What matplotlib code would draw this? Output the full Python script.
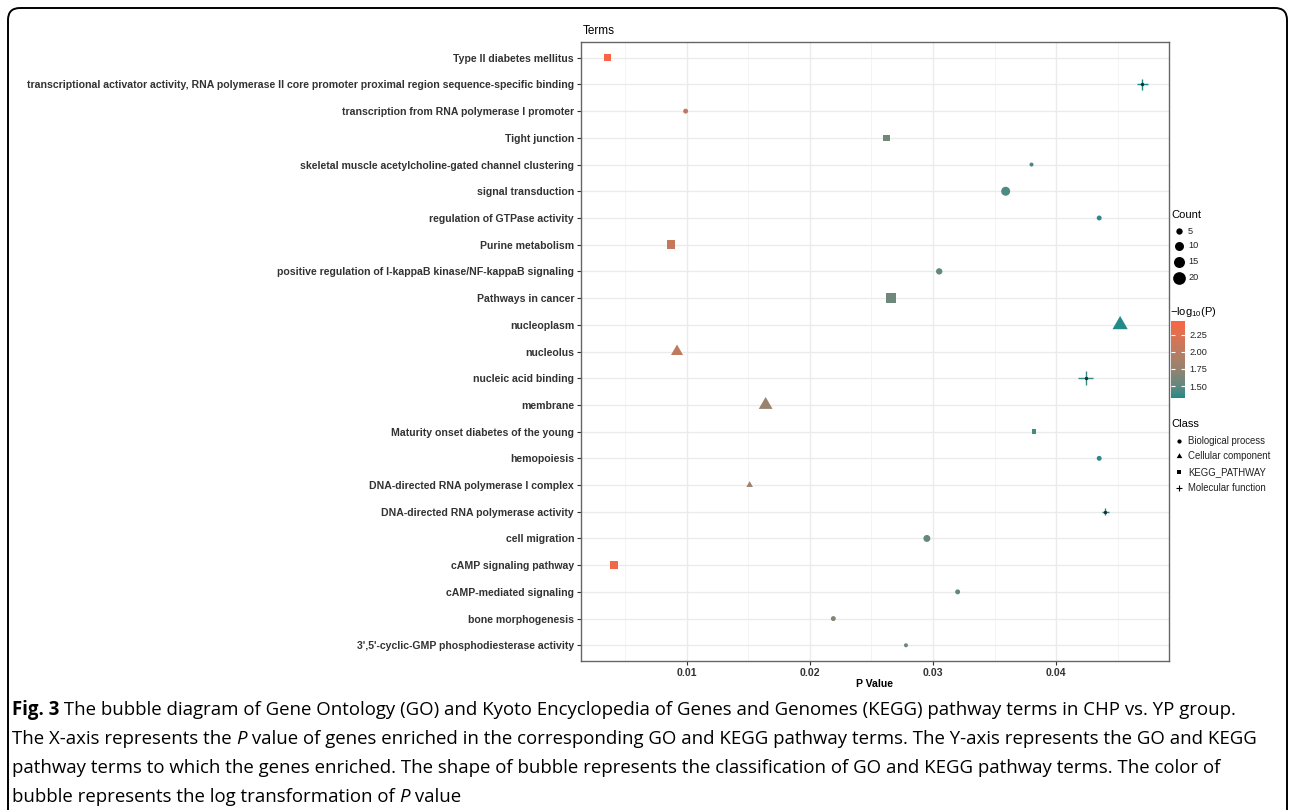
import numpy as np
import matplotlib
matplotlib.use('Agg')
import matplotlib as mpl
import matplotlib.pyplot as plt
from matplotlib.colors import ListedColormap, Normalize
from matplotlib.patches import FancyBboxPatch
from matplotlib.ticker import MultipleLocator, FormatStrFormatter

plt.rcParams['font.family'] = ['Liberation Sans', 'DejaVu Sans']
plt.rcParams['mathtext.fontset'] = 'custom'
plt.rcParams['mathtext.rm'] = 'Liberation Sans'

# terms listed top to bottom as in the figure
terms = [
    'Type II diabetes mellitus',
    'transcriptional activator activity, RNA polymerase II core promoter proximal region sequence-specific binding',
    'transcription from RNA polymerase I promoter',
    'Tight junction',
    'skeletal muscle acetylcholine-gated channel clustering',
    'signal transduction',
    'regulation of GTPase activity',
    'Purine metabolism',
    'positive regulation of I-kappaB kinase/NF-kappaB signaling',
    'Pathways in cancer',
    'nucleoplasm',
    'nucleolus',
    'nucleic acid binding',
    'membrane',
    'Maturity onset diabetes of the young',
    'hemopoiesis',
    'DNA-directed RNA polymerase I complex',
    'DNA-directed RNA polymerase activity',
    'cell migration',
    'cAMP signaling pathway',
    'cAMP-mediated signaling',
    'bone morphogenesis',
    "3',5'-cyclic-GMP phosphodiesterase activity",
]
p_values = [0.00357, 0.0470, 0.0099, 0.0262, 0.0380, 0.0359, 0.0435, 0.0087,
            0.0305, 0.0266, 0.0452, 0.0092, 0.0424, 0.0164, 0.0382, 0.0435,
            0.0151, 0.0440, 0.0295, 0.0041, 0.0320, 0.0219, 0.0278]
counts = [8, 8, 3, 7, 2, 10, 3, 11, 5, 14, 16, 10, 13, 13, 3, 3,
          3, 3, 6, 11, 3, 3, 2]
classes = ['KEGG_PATHWAY', 'Molecular function', 'Biological process', 'KEGG_PATHWAY',
           'Biological process', 'Biological process', 'Biological process', 'KEGG_PATHWAY',
           'Biological process', 'KEGG_PATHWAY', 'Cellular component', 'Cellular component',
           'Molecular function', 'Cellular component', 'KEGG_PATHWAY', 'Biological process',
           'Cellular component', 'Molecular function', 'Biological process', 'KEGG_PATHWAY',
           'Biological process', 'Biological process', 'Biological process']

class_names = ['Biological process', 'Cellular component', 'KEGG_PATHWAY', 'Molecular function']
count_breaks = [5, 10, 15, 20]
cbar_ticks = [1.50, 1.75, 2.00, 2.25]

caption = [
    [('Fig. 3', 'bold', 'normal'),
     (' The bubble diagram of Gene Ontology (GO) and Kyoto Encyclopedia of Genes and Genomes (KEGG) pathway terms in CHP vs. YP group.', 'normal', 'normal')],
    [('The X-axis represents the ', 'normal', 'normal'), ('P', 'normal', 'italic'),
     (' value of genes enriched in the corresponding GO and KEGG pathway terms. The Y-axis represents the GO and KEGG', 'normal', 'normal')],
    [('pathway terms to which the genes enriched. The shape of bubble represents the classification of GO and KEGG pathway terms. The color of', 'normal', 'normal')],
    [('bubble represents the log transformation of ', 'normal', 'normal'), ('P', 'normal', 'italic'),
     (' value', 'normal', 'normal')],
]


# ggplot style gradient: interpolate in Lab space
def srgb_to_lab(rgb):
    rgb = np.asarray(rgb, float)
    lin = np.where(rgb <= 0.04045, rgb / 12.92, ((rgb + 0.055) / 1.055) ** 2.4)
    m = np.array([[0.4124, 0.3576, 0.1805], [0.2126, 0.7152, 0.0722], [0.0193, 0.1192, 0.9505]])
    xyz = m @ lin / np.array([0.95047, 1.0, 1.08883])
    f = np.where(xyz > 0.008856, np.cbrt(xyz), 7.787 * xyz + 16 / 116)
    return np.array([116 * f[1] - 16, 500 * (f[0] - f[1]), 200 * (f[1] - f[2])])


def lab_to_srgb(lab):
    L, a, b = lab
    fy = (L + 16) / 116
    fx = fy + a / 500
    fz = fy - b / 200
    f = np.array([fx, fy, fz])
    xyz = np.where(f ** 3 > 0.008856, f ** 3, (f - 16 / 116) / 7.787) * np.array([0.95047, 1.0, 1.08883])
    m = np.array([[3.2406, -1.5372, -0.4986], [-0.9689, 1.8758, 0.0415], [0.0557, -0.2040, 1.0570]])
    lin = m @ xyz
    rgb = np.where(lin <= 0.0031308, 12.92 * lin, 1.055 * np.clip(lin, 0, None) ** (1 / 2.4) - 0.055)
    return np.clip(rgb, 0, 1)


low = srgb_to_lab(mpl.colors.to_rgb('#178A8A'))
high = srgb_to_lab(mpl.colors.to_rgb('#FA6444'))
cmap = ListedColormap([lab_to_srgb(low + (high - low) * t) for t in np.linspace(0, 1, 256)])

logp = -np.log10(np.array(p_values))
norm = Normalize(logp.min(), logp.max())

tri = [(0, 1), (-0.866, -0.5), (0.866, -0.5), (0, 1)]
shapes = {'Biological process': ('o', 1.0), 'Cellular component': (tri, 1.556),
          'KEGG_PATHWAY': ('s', 0.886), 'Molecular function': ('+', 1.414)}


def marker_area(count, factor=1.0):
    d_pt = 2.84 * np.sqrt(np.asarray(count, float)) * 0.72
    return (d_pt * factor) ** 2


fig = plt.figure(figsize=(12.9, 8.1), dpi=100)
ax = fig.add_axes([581 / 1290, 1 - 661.3 / 810, 588 / 1290, 619.6 / 810])

n = len(terms)
ypos = np.arange(n)[::-1]
pv = np.array(p_values)
cnt = np.array(counts)
cls = np.array(classes)
for name in class_names:
    idx = cls == name
    m, fac = shapes[name]
    cols = cmap(norm(logp[idx]))
    if m == '+':
        ax.scatter(pv[idx], ypos[idx], s=marker_area(cnt[idx], fac), c=cols, marker=m,
                   linewidths=1.0, zorder=3)
        ax.scatter(pv[idx], ypos[idx], s=6, c='#1a2f30', marker='o', linewidths=0, zorder=4)
    else:
        ax.scatter(pv[idx], ypos[idx], s=marker_area(cnt[idx], fac), c=cols, marker=m,
                   linewidths=0, zorder=3)

span = pv.max() - pv.min()
ax.set_xlim(pv.min() - 0.05 * span, pv.max() + 0.05 * span)
ax.set_ylim(-0.6, n - 0.4)
ax.set_yticks(np.arange(n))
ax.set_yticklabels(terms[::-1], fontweight='bold')
ax.xaxis.set_major_locator(MultipleLocator(0.01))
ax.xaxis.set_minor_locator(MultipleLocator(0.005))
ax.xaxis.set_major_formatter(FormatStrFormatter('%.2f'))
for lbl in ax.get_xticklabels():
    lbl.set_fontweight('bold')
ax.tick_params(which='major', length=3, width=0.8, color='#333333', labelsize=7.55,
               labelcolor='#333333', pad=2)
ax.tick_params(which='minor', length=0)
ax.set_axisbelow(True)
ax.grid(which='major', color='#EBEBEB', linewidth=1.0)
ax.grid(which='minor', axis='x', color='#F2F2F2', linewidth=0.6)
for sp in ax.spines.values():
    sp.set_color('#666666')
    sp.set_linewidth(1.0)

# overlay in pixel coordinates for titles, legends, caption and frame
ov = fig.add_axes([0, 0, 1, 1], zorder=-1)
ov.set_xlim(0, 1290)
ov.set_ylim(810, 0)
ov.axis('off')

ov.add_patch(FancyBboxPatch((8, 8), 1279, 840, boxstyle='round,pad=0,rounding_size=12',
                            fill=False, ec='black', lw=1.4))
ov.text(583, 31, 'Terms', fontsize=8.5, ha='left', va='center')
ov.text(875, 684, 'P Value', fontsize=7.6, fontweight='bold', ha='center', va='center')

# Count legend
ov.text(1171, 215, 'Count', fontsize=8, ha='left', va='center')
for yy, c in zip([231, 246, 262, 278], count_breaks):
    ov.scatter([1179], [yy], s=marker_area(c), c='black', marker='o', linewidths=0)
    ov.text(1188, yy, str(c), fontsize=6.6, ha='left', va='center', color='#222222')

# colour legend
ov.text(1170, 312, r'$-$log$_{10}$(P)', fontsize=8, ha='left', va='center')
cax = fig.add_axes([1171 / 1290, 1 - 398 / 810, 14 / 1290, 77 / 810])
cb = mpl.colorbar.ColorbarBase(cax, cmap=cmap, norm=norm)
cb.set_ticks(cbar_ticks)
cb.ax.set_yticklabels(['%.2f' % t for t in cbar_ticks])
cb.outline.set_visible(False)
cax.tick_params(axis='y', direction='in', color='white', length=3, width=0.8,
                left=True, right=True, labelleft=False, labelright=True,
                labelsize=6.6, labelcolor='#222222', pad=3)

# Class legend
ov.text(1171, 424, 'Class', fontsize=8, ha='left', va='center')
for yy, name in zip([441, 456, 472, 488], class_names):
    m, fac = shapes[name]
    if m == '+':
        ov.scatter([1179], [yy], s=marker_area(2.2, fac), c='black', marker=m, linewidths=0.8)
    else:
        ov.scatter([1179], [yy], s=marker_area(2.2, fac), c='black', marker=m, linewidths=0)
    ov.text(1188, yy, name, fontsize=6.9, ha='left', va='center', color='#222222')

# caption
renderer = fig.canvas.get_renderer()
for i, line in enumerate(caption):
    x = 12
    y = 710 + 29 * i
    for txt, weight, style in line:
        t = ov.text(x, y, txt, fontsize=13.45, fontweight=weight, fontstyle=style,
                    family=['Open Sans', 'DejaVu Sans'], ha='left', va='center')
        x += t.get_window_extent(renderer).width

fig.savefig('out.png', dpi=100)
